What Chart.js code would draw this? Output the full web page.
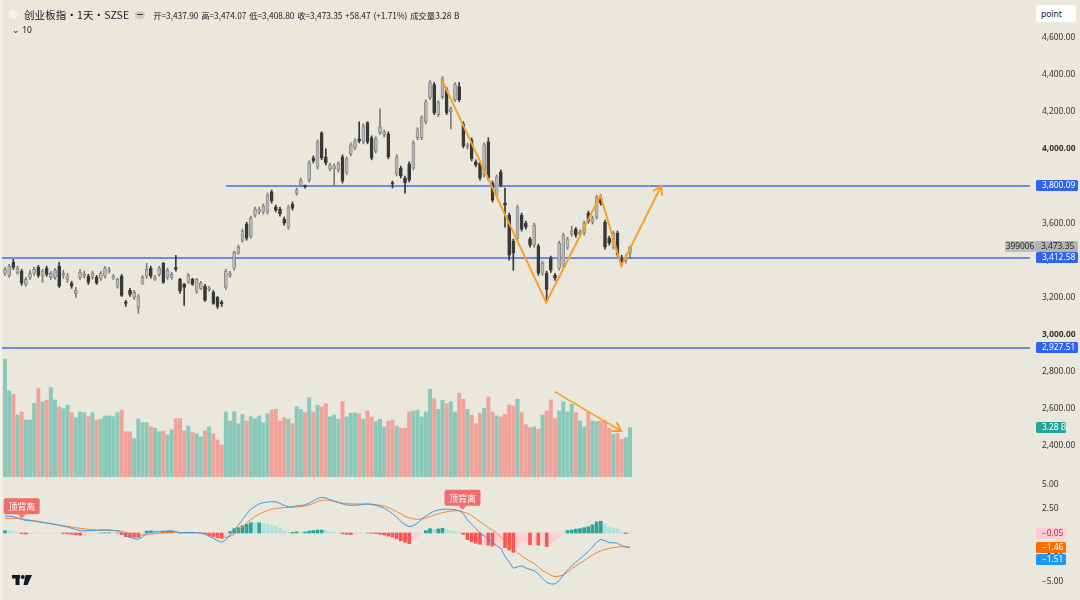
<!DOCTYPE html>
<html>
<head>
<meta charset="utf-8">
<title>创业板指 · 1天 · SZSE</title>
<script src="https://cdn.jsdelivr.net/npm/chart.js@4.4.1/dist/chart.umd.min.js"></script>
<style>
  html, body { margin: 0; padding: 0; background: #eae7dd; }
  body { width: 1080px; height: 600px; position: relative; overflow: hidden;
         font-family: "Noto Sans", "Noto Sans CJK SC", sans-serif; color: #131722; }
  canvas { position: absolute; left: 0; }
  #price { top: 0; }
  #macd { top: 478px; }
  .edge { position: absolute; left: 0; top: 0; width: 2px; height: 600px; background: #f2f0ea; }
  .title { position: absolute; left: 9px; top: 7px; white-space: nowrap; display: flex; align-items: center; }
  .dot { width: 9px; height: 9px; border-radius: 50%; background: #f3f1ec; margin-right: 6px; }
  .name { font-family: "Noto Sans CJK SC", sans-serif; font-size: 10.5px; letter-spacing: 0.1px; }
  .pill { display: inline-block; width: 10px; height: 8px; border-radius: 4px; background: #cfccc3;
          margin: 0 8px 0 6px; position: relative; }
  .pill::after { content: ""; position: absolute; left: 2px; top: 3.3px; width: 6px; height: 1.4px; background: #333; }
  .ohlc { font-family: "Noto Sans CJK SC", sans-serif; font-size: 8.3px; word-spacing: 1px; }
  .sub { position: absolute; left: 12px; top: 24px; font-size: 8.5px; }
  .unit { position: absolute; left: 1036px; top: 5px; width: 40px; height: 17px; background: #fff;
          border-radius: 3px; font-size: 8.5px; line-height: 17px; padding-left: 5px; box-sizing: border-box; }
</style>
</head>
<body>
<canvas id="price" width="1080" height="477"></canvas>
<canvas id="macd" width="1080" height="122"></canvas>
<div class="edge"></div>
<div class="title">
  <span class="dot"></span>
  <span class="name">创业板指·1天·SZSE</span>
  <span class="pill"></span>
  <span class="ohlc">开=3,437.90 高=3,474.07 低=3,408.80 收=3,473.35 +58.47 (+1.71%) 成交量3.28 B</span>
</div>
<div class="sub">&#8964; 10</div>
<div class="unit">point</div>

<script>
// ---- data (daily candles, oldest first) ----
var openArr = [
  3330, 3319, 3389, 3335, 3341, 3270, 3308, 3330, 3362, 3314,
  3357, 3308, 3308, 3368, 3319, 3297, 3276, 3222, 3308, 3314,
  3314, 3308, 3308, 3303, 3314, 3341, 3303, 3260, 3314, 3173,
  3238, 3200, 3146, 3276, 3314, 3357, 3297, 3324, 3384, 3308,
  3308, 3359, 3297, 3270, 3281, 3297, 3233, 3249, 3260, 3243,
  3227, 3200, 3170, 3254, 3319, 3357, 3438, 3508, 3595, 3530,
  3643, 3660, 3660, 3660, 3768, 3687, 3676, 3622, 3578, 3703,
  3762, 3805, 3800, 3832, 3951, 3903, 4087, 3957, 3892, 3892,
  3887, 3957, 3870, 3973, 4005, 4054, 4038, 4141, 4060, 3989,
  4087, 4076, 4081, 3816, 3865, 3897, 3843, 3919, 3897, 4060,
  4060, 4146, 4276, 4346, 4184, 4281, 4319, 4200, 4265, 4335,
  4135, 4011, 4049, 3930, 3924, 3860, 4038, 3816, 3751, 3876,
  3708, 3643, 3503, 3519, 3643, 3600, 3514, 3481, 3476, 3330,
  3330, 3411, 3319, 3357, 3373, 3470, 3541, 3568, 3541, 3546,
  3654, 3605, 3632, 3735, 3605, 3519, 3470, 3546, 3405, 3400,
  3437.90
];
var highArr = [
  3362, 3378, 3405, 3368, 3351, 3308, 3346, 3362, 3373, 3351,
  3368, 3341, 3357, 3389, 3346, 3330, 3287, 3254, 3351, 3341,
  3324, 3341, 3319, 3341, 3368, 3362, 3324, 3303, 3324, 3184,
  3249, 3238, 3216, 3319, 3384, 3368, 3319, 3368, 3389, 3357,
  3335, 3427, 3303, 3276, 3330, 3303, 3303, 3287, 3270, 3260,
  3238, 3205, 3184, 3351, 3341, 3449, 3481, 3568, 3605, 3638,
  3687, 3687, 3703, 3762, 3778, 3697, 3687, 3632, 3697, 3714,
  3789, 3843, 3805, 3935, 3962, 4049, 4092, 4000, 3924, 3919,
  3930, 3968, 3957, 4032, 4054, 4146, 4135, 4146, 4070, 4065,
  4216, 4103, 4092, 3827, 3968, 3908, 3854, 3930, 4043, 4114,
  4178, 4265, 4368, 4357, 4260, 4389, 4330, 4227, 4357, 4357,
  4146, 4032, 4060, 3941, 3935, 4032, 4060, 3827, 3860, 3887,
  3789, 3654, 3514, 3697, 3654, 3611, 3524, 3600, 3487, 3395,
  3341, 3422, 3330, 3503, 3546, 3524, 3584, 3578, 3562, 3611,
  3665, 3638, 3751, 3751, 3616, 3530, 3557, 3557, 3427, 3432,
  3474.07
];
var lowArr = [
  3319, 3308, 3351, 3324, 3265, 3260, 3297, 3319, 3308, 3281,
  3314, 3297, 3297, 3254, 3303, 3281, 3249, 3200, 3297, 3303,
  3270, 3297, 3270, 3292, 3303, 3330, 3297, 3249, 3205, 3151,
  3205, 3189, 3114, 3270, 3303, 3303, 3292, 3314, 3276, 3297,
  3297, 3341, 3222, 3157, 3276, 3265, 3222, 3243, 3178, 3233,
  3162, 3140, 3151, 3243, 3308, 3346, 3432, 3497, 3508, 3519,
  3632, 3649, 3649, 3649, 3708, 3660, 3638, 3589, 3568, 3670,
  3751, 3795, 3789, 3822, 3924, 3892, 3941, 3914, 3881, 3805,
  3876, 3816, 3860, 3962, 3995, 4032, 4027, 4027, 3941, 3978,
  4076, 4065, 3946, 3789, 3854, 3843, 3762, 3822, 3887, 4049,
  4049, 4135, 4265, 4184, 4173, 4270, 4184, 4108, 4254, 4254,
  4005, 4000, 3935, 3903, 3832, 3849, 3832, 3714, 3741, 3795,
  3578, 3400, 3346, 3508, 3557, 3568, 3470, 3470, 3319, 3319,
  3184, 3335, 3292, 3346, 3362, 3460, 3530, 3524, 3530, 3535,
  3600, 3595, 3622, 3697, 3460, 3481, 3460, 3422, 3373, 3384,
  3408.80
];
var closeArr = [
  3351, 3368, 3362, 3357, 3276, 3297, 3330, 3351, 3319, 3341,
  3324, 3330, 3346, 3260, 3330, 3314, 3260, 3238, 3335, 3324,
  3281, 3330, 3276, 3330, 3357, 3346, 3314, 3297, 3211, 3168,
  3216, 3227, 3205, 3308, 3351, 3314, 3308, 3357, 3281, 3346,
  3324, 3352, 3233, 3254, 3319, 3270, 3297, 3276, 3184, 3249,
  3168, 3151, 3166, 3341, 3330, 3443, 3470, 3557, 3519, 3627,
  3676, 3676, 3692, 3751, 3719, 3670, 3649, 3600, 3687, 3681,
  3778, 3832, 3795, 3924, 3935, 4038, 3951, 3924, 3914, 3908,
  3919, 3827, 3946, 4022, 4043, 4043, 4124, 4038, 3951, 4054,
  4119, 4092, 3957, 3811, 3957, 3854, 3816, 3832, 4032, 4103,
  4168, 4254, 4357, 4195, 4249, 4378, 4195, 4216, 4346, 4265,
  4016, 4022, 3946, 3914, 3843, 4022, 3843, 3724, 3849, 3805,
  3697, 3427, 3438, 3687, 3568, 3578, 3481, 3589, 3330, 3384,
  3243, 3346, 3303, 3492, 3535, 3514, 3557, 3535, 3552, 3600,
  3611, 3627, 3741, 3708, 3470, 3492, 3546, 3432, 3389, 3416,
  3473.35
];
// volume, billions
var volume = [
  7.83, 5.72, 5.50, 4.12, 4.32, 3.79, 3.79, 4.90, 5.90, 5.01,
  5.10, 5.94, 5.12, 4.66, 4.54, 4.77, 4.28, 3.94, 4.32, 4.28,
  4.01, 4.28, 3.77, 3.84, 4.06, 4.06, 4.01, 4.28, 4.44, 3.01,
  3.01, 2.57, 3.84, 3.61, 3.61, 3.33, 3.24, 3.01, 3.06, 2.79,
  3.13, 3.88, 3.88, 3.06, 3.39, 2.95, 2.88, 2.66, 3.06, 3.33,
  2.88, 2.46, 2.13, 4.32, 3.72, 4.34, 3.54, 4.17, 3.72, 4.01,
  3.88, 4.06, 3.61, 4.21, 4.46, 4.50, 3.72, 3.94, 3.84, 3.54,
  4.68, 4.50, 4.28, 5.27, 4.32, 4.77, 4.66, 4.88, 3.99, 4.12,
  3.84, 5.01, 3.99, 4.24, 4.26, 4.21, 3.84, 4.39, 3.99, 3.68,
  3.84, 3.33, 3.72, 3.79, 3.39, 3.24, 3.24, 4.34, 4.39, 4.44,
  3.99, 4.32, 5.83, 5.21, 4.50, 5.10, 4.88, 5.01, 4.32, 5.57,
  5.17, 4.50, 4.12, 3.54, 4.24, 4.57, 5.32, 4.32, 4.06, 3.99,
  4.17, 4.79, 4.72, 5.17, 4.28, 3.47, 3.28, 3.33, 3.17, 4.12,
  4.39, 5.12, 3.88, 4.39, 4.99, 4.32, 4.83, 4.28, 3.72, 3.33,
  4.32, 3.72, 3.68, 3.72, 3.72, 3.24, 2.84, 2.88, 2.51, 2.61,
  3.28
];
// MACD (12, 26, 9)
var dif = [
  1.75, 1.72, 1.68, 1.55, 1.40, 1.30, 1.26, 1.22, 1.15, 1.08,
  1.02, 0.95, 0.88, 0.80, 0.70, 0.60, 0.48, 0.35, 0.24, 0.22,
  0.24, 0.25, 0.27, 0.30, 0.31, 0.30, 0.27, 0.22, 0.02, -0.30,
  -0.45, -0.58, -0.65, -0.40, 0.00, 0.08, 0.12, 0.14, 0.18, 0.22,
  0.24, 0.15, 0.03, 0.05, 0.06, 0.07, 0.04, 0.00, -0.12, -0.35,
  -0.55, -0.80, -0.96, -0.70, -0.20, 0.30, 0.80, 1.40, 1.95, 2.45,
  2.75, 3.00, 3.13, 3.20, 3.23, 3.22, 3.05, 2.85, 2.71, 2.72,
  2.80, 2.82, 2.90, 3.10, 3.30, 3.55, 3.68, 3.62, 3.45, 3.30,
  3.15, 3.00, 2.89, 2.85, 2.87, 2.89, 2.95, 2.99, 2.95, 2.85,
  2.72, 2.55, 2.30, 2.00, 1.62, 1.20, 0.85, 0.65, 0.75, 1.00,
  1.40, 1.75, 2.03, 2.25, 2.38, 2.44, 2.46, 2.44, 2.40, 2.30,
  2.00, 1.34, 0.90, 0.45, 0.00, -0.30, -0.60, -0.95, -1.30, -1.60,
  -2.40, -3.00, -3.64, -3.50, -3.40, -3.60, -3.75, -3.90, -4.20, -4.67,
  -5.10, -5.26, -5.26, -4.90, -4.33, -3.80, -3.40, -3.00, -2.65, -2.30,
  -1.90, -1.45, -0.95, -0.65, -0.80, -1.00, -1.00, -1.05, -1.30, -1.45,
  -1.51
];
var dea = [
  1.51, 1.51, 1.51, 1.51, 1.48, 1.40, 1.32, 1.27, 1.20, 1.12,
  1.05, 0.98, 0.90, 0.82, 0.75, 0.68, 0.60, 0.54, 0.48, 0.43,
  0.38, 0.34, 0.31, 0.30, 0.29, 0.27, 0.25, 0.24, 0.18, 0.08,
  -0.05, -0.15, -0.20, -0.22, -0.20, -0.14, -0.08, -0.02, 0.02, 0.05,
  0.06, 0.06, 0.05, 0.04, 0.03, 0.03, 0.02, 0.00, -0.03, -0.08,
  -0.18, -0.30, -0.40, -0.45, -0.35, -0.15, 0.25, 0.65, 1.05, 1.38,
  1.70, 1.95, 2.15, 2.32, 2.45, 2.54, 2.58, 2.62, 2.64, 2.65,
  2.68, 2.72, 2.80, 2.90, 3.05, 3.25, 3.38, 3.40, 3.35, 3.25,
  3.15, 3.08, 3.03, 3.00, 2.99, 2.99, 2.99, 2.99, 2.98, 2.92,
  2.85, 2.76, 2.62, 2.42, 2.20, 1.98, 1.72, 1.55, 1.45, 1.41,
  1.45, 1.55, 1.68, 1.85, 1.98, 2.10, 2.18, 2.25, 2.30, 2.30,
  2.15, 2.03, 1.80, 1.50, 1.17, 0.85, 0.55, 0.30, 0.00, -0.40,
  -0.89, -1.25, -1.65, -2.03, -2.35, -2.65, -2.90, -3.15, -3.50, -3.88,
  -4.10, -4.35, -4.50, -4.45, -4.33, -4.05, -3.70, -3.40, -3.10, -2.85,
  -2.55, -2.25, -2.03, -1.85, -1.70, -1.58, -1.51, -1.45, -1.41, -1.42,
  -1.46
];
var hist = [
  0.24, 0.21, 0.17, 0.04, -0.08, -0.10, -0.06, -0.05, -0.05, -0.04,
  -0.03, -0.03, -0.02, -0.02, -0.05, -0.08, -0.12, -0.19, -0.24, -0.21,
  -0.14, -0.09, -0.04, 0.00, 0.02, 0.03, 0.02, -0.02, -0.16, -0.38,
  -0.40, -0.43, -0.45, -0.18, 0.20, 0.22, 0.20, 0.16, 0.16, 0.17,
  0.18, 0.09, -0.02, 0.01, 0.03, 0.04, 0.02, 0.00, -0.09, -0.27,
  -0.37, -0.50, -0.56, -0.25, 0.15, 0.45, 0.55, 0.75, 0.90, 1.07,
  1.05, 1.05, 0.98, 0.88, 0.78, 0.68, 0.47, 0.23, 0.07, 0.07,
  0.12, 0.10, 0.10, 0.20, 0.25, 0.30, 0.30, 0.22, 0.10, 0.05,
  0.00, -0.08, -0.14, -0.15, -0.12, -0.10, -0.04, 0.00, -0.03, -0.07,
  -0.13, -0.21, -0.32, -0.42, -0.60, -0.80, -0.95, -1.10, -0.75, -0.40,
  -0.10, 0.25, 0.45, 0.38, 0.42, 0.48, 0.35, 0.25, 0.15, 0.05,
  -0.15, -0.69, -0.90, -1.05, -1.17, -1.15, -1.25, -1.35, -1.30, -1.25,
  -1.51, -1.75, -1.99, -1.47, -1.05, -0.95, -1.20, -1.00, -1.25, -1.10,
  -1.40, -1.10, -0.80, -0.45, -0.05, 0.25, 0.30, 0.40, 0.45, 0.55,
  0.65, 0.85, 1.15, 1.20, 0.90, 0.58, 0.51, 0.40, 0.11, -0.06,
  -0.05
];

var priceTicks = [4600, 4400, 4200, 4000, 3800, 3600, 3400, 3200, 3000, 2800, 2600, 2400];
var macdTicks = [5, 2.5, 0, -2.5, -5];

// drawn levels and annotations (x = candle index)
var levels = [3800.09, 3412.58, 2927.51];
var levelFrom = [53, -1.2, -1.2];
var zigX = [104.7, 129.9, 142.9, 147.9, 157.5];
var zigY = [4378, 3173, 3749, 3370, 3800];
var volArrowX = [131.9, 147.9];
var volArrowY = [5.67, 3.06];
var divX = [4, 109.8];
var divY = [1.42, 2.30];
var symbolCode = '399006';

// ---- styling ----
var X_MIN = -1.2, X_MAX = 246;
var BLUE = '#2f63f0', LINE_BLUE = '#416ee0', ORANGE = '#f5a02a';
var UP_BODY = '#b6b6b6', UP_EDGE = '#7b7b7b', DN_BODY = '#383838';
var VOL_UP = '#8ac8ba', VOL_DN = '#efa39a';
var FONT = '"Noto Sans", sans-serif';
var FS = 8.4;

var isUp = closeArr.map(function(c, i) { return c >= openArr[i]; });

function fmt(v) {
  var s = Math.abs(v).toLocaleString('en-US', { minimumFractionDigits: 2, maximumFractionDigits: 2 });
  return (v < 0 ? '\u2212' : '') + s;
}

function tag(ctx, x, yc, w, text, bg, fg, center) {
  var h = 11;
  var top = Math.round(yc - h / 2);
  ctx.save();
  ctx.fillStyle = bg;
  ctx.beginPath();
  ctx.roundRect(x, top, w, h, 1.5);
  ctx.fill();
  ctx.fillStyle = fg;
  ctx.font = FS + 'px ' + FONT;
  ctx.textBaseline = 'middle';
  ctx.textAlign = center ? 'center' : 'left';
  ctx.fillText(text, center ? x + w / 2 : x + 6, top + h / 2 + 0.5);
  ctx.restore();
}

function arrowHead(ctx, p0, p1, len) {
  var a = Math.atan2(p1.y - p0.y, p1.x - p0.x), s = 0.55;
  ctx.beginPath();
  ctx.moveTo(p1.x - len * Math.cos(a - s), p1.y - len * Math.sin(a - s));
  ctx.lineTo(p1.x, p1.y);
  ctx.lineTo(p1.x - len * Math.cos(a + s), p1.y - len * Math.sin(a + s));
  ctx.stroke();
}

function lineSet(xs, ys, axis, color, width, key) {
  return {
    type: 'line', key: key, yAxisID: axis,
    data: xs.map(function(x, k) { return { x: x, y: ys[k] }; }),
    borderColor: color, borderWidth: width, pointRadius: 0, tension: 0, order: 0
  };
}

var pricePlugin = {
  id: 'priceDecor',
  afterDatasetsDraw: function(chart) {
    var ctx = chart.ctx;
    ['zig', 'volArrow'].forEach(function(key) {
      var idx = chart.data.datasets.findIndex(function(d) { return d.key === key; });
      var pts = chart.getDatasetMeta(idx).data;
      ctx.save();
      ctx.strokeStyle = ORANGE;
      ctx.lineWidth = 2;
      ctx.lineCap = 'round';
      arrowHead(ctx, pts[pts.length - 2], pts[pts.length - 1], 9);
      ctx.restore();
    });
  },
  afterDraw: function(chart) {
    var ctx = chart.ctx, y = chart.scales.y, vol = chart.scales.vol;
    var last = closeArr.length - 1;
    var ly = y.getPixelForValue(closeArr[last]);
    tag(ctx, 1005, ly, 30, symbolCode, '#bcbcbc', '#222', true);
    tag(ctx, 1035, ly, 43, fmt(closeArr[last]), '#b3b3b3', '#222');
    levels.forEach(function(v) { tag(ctx, 1036, y.getPixelForValue(v), 42, fmt(v), BLUE, '#fff'); });
    tag(ctx, 1036, vol.getPixelForValue(volume[last]), 30, volume[last].toFixed(2) + ' B', '#26a69a', '#fff');
  }
};

var datasets = [
  {
    type: 'bar', yAxisID: 'vol', order: 10, grouped: false, barThickness: 3.3,
    data: volume.map(function(v, i) { return { x: i, y: v }; }),
    backgroundColor: isUp.map(function(u) { return u ? VOL_UP : VOL_DN; })
  },
  {
    type: 'bar', yAxisID: 'y', order: 3, grouped: false, barThickness: 1,
    data: lowArr.map(function(l, i) { return { x: i, y: [l, highArr[i]] }; }),
    backgroundColor: isUp.map(function(u) { return u ? UP_EDGE : DN_BODY; })
  },
  {
    type: 'bar', yAxisID: 'y', order: 2, grouped: false, barThickness: 3, minBarLength: 1.5,
    data: openArr.map(function(o, i) { return { x: i, y: [o, closeArr[i]] }; }),
    backgroundColor: isUp.map(function(u) { return u ? UP_BODY : DN_BODY; }),
    borderColor: isUp.map(function(u) { return u ? UP_EDGE : DN_BODY; }),
    borderWidth: 0.7, borderSkipped: false
  }
];
levels.forEach(function(v, k) {
  var d = lineSet([levelFrom[k], X_MAX], [v, v], 'y', LINE_BLUE, 1.4, 'level' + k);
  d.order = 5;
  datasets.push(d);
});
datasets.push(lineSet(zigX, zigY, 'y', ORANGE, 2, 'zig'));
datasets.push(lineSet(volArrowX, volArrowY, 'vol', ORANGE, 1.6, 'volArrow'));

var xAxis = { type: 'linear', min: X_MIN, max: X_MAX, offset: false, display: false };

new Chart(document.getElementById('price'), {
  type: 'bar',
  data: { datasets: datasets },
  options: {
    responsive: false,
    animation: false,
    layout: { padding: 0 },
    plugins: { legend: { display: false }, tooltip: { enabled: false } },
    scales: {
      x: xAxis,
      y: {
        position: 'right', min: 2232.6, max: 4801.9,
        grid: { display: false, drawTicks: false }, border: { display: false },
        afterBuildTicks: function(s) { s.ticks = priceTicks.map(function(v) { return { value: v }; }); },
        afterFit: function(s) { s.width = 50; s.paddingTop = 0; s.paddingBottom = 0; },
        ticks: {
          padding: 12, autoSkip: false, color: '#333',
          font: function(c) {
            return { family: FONT, size: FS, weight: c.tick && c.tick.value % 1000 === 0 ? 'bold' : 'normal' };
          },
          callback: function(v) { return fmt(v); }
        }
      },
      vol: { display: false, min: 0, max: 31.7 }
    }
  },
  plugins: [pricePlugin]
});

// ---- MACD pane ----
var histColors = hist.map(function(h, i) {
  var p = i > 0 ? hist[i - 1] : h;
  if (h >= 0) return h >= p ? '#26a69a' : '#b2dfdb';
  return h < p ? '#ff5252' : '#ffcdd2';
});

var macdPlugin = {
  id: 'macdDecor',
  afterDraw: function(chart) {
    var ctx = chart.ctx, xs = chart.scales.x, ys = chart.scales.y;
    // divergence labels
    divX.forEach(function(dx, k) {
      var ax = xs.getPixelForValue(dx), ay = ys.getPixelForValue(divY[k]);
      var w = 36, h = 16, bottom = ay - 5;
      ctx.save();
      ctx.fillStyle = '#f26d6d';
      ctx.beginPath();
      ctx.roundRect(ax - w / 2, bottom - h, w, h, 2);
      ctx.fill();
      ctx.beginPath();
      ctx.moveTo(ax - 4, bottom);
      ctx.lineTo(ax + 4, bottom);
      ctx.lineTo(ax, bottom + 4);
      ctx.closePath();
      ctx.fill();
      ctx.fillStyle = '#fff';
      ctx.font = '9px "Noto Sans CJK SC", sans-serif';
      ctx.textAlign = 'center';
      ctx.textBaseline = 'middle';
      ctx.fillText('顶背离', ax, bottom - h / 2 + 0.5);
      ctx.restore();
    });
    // last value tags, pushed apart when they overlap
    var n = hist.length - 1;
    var items = [
      { v: hist[n], bg: '#ffcdd2', fg: '#c62828' },
      { v: dea[n], bg: '#ff6d00', fg: '#fff' },
      { v: dif[n], bg: '#2196f3', fg: '#fff' }
    ].map(function(t) { t.y = ys.getPixelForValue(t.v); return t; })
     .sort(function(a, b) { return a.y - b.y; });
    var prev = -1e9;
    items.forEach(function(t) {
      t.y = Math.max(t.y, prev + 12);
      prev = t.y;
      tag(ctx, 1036, t.y, 30, fmt(t.v), t.bg, t.fg);
    });
    // logo
    ctx.save();
    ctx.fillStyle = '#131722';
    ctx.fillRect(12, 97, 8, 3.5);
    ctx.fillRect(15.5, 97, 4, 10);
    ctx.beginPath();
    ctx.arc(22.7, 99, 1.9, 0, Math.PI * 2);
    ctx.fill();
    ctx.beginPath();
    ctx.moveTo(25.5, 97);
    ctx.lineTo(32, 97);
    ctx.lineTo(27.5, 107);
    ctx.lineTo(23.5, 107);
    ctx.closePath();
    ctx.fill();
    ctx.restore();
  }
};

new Chart(document.getElementById('macd'), {
  type: 'bar',
  data: {
    datasets: [
      {
        type: 'line', order: 1,
        data: dif.map(function(v, i) { return { x: i, y: v }; }),
        borderColor: '#3d97e6', borderWidth: 1, pointRadius: 0, tension: 0
      },
      {
        type: 'line', order: 2,
        data: dea.map(function(v, i) { return { x: i, y: v }; }),
        borderColor: '#f2813a', borderWidth: 1, pointRadius: 0, tension: 0
      },
      {
        type: 'bar', order: 3, grouped: false, barThickness: 3,
        data: hist.map(function(v, i) { return { x: i, y: v }; }),
        backgroundColor: histColors
      }
    ]
  },
  options: {
    responsive: false,
    animation: false,
    layout: { padding: 0 },
    plugins: { legend: { display: false }, tooltip: { enabled: false } },
    scales: {
      x: xAxis,
      y: {
        position: 'right', min: -6.91, max: 5.67,
        grid: { display: false, drawTicks: false }, border: { display: false },
        afterBuildTicks: function(s) { s.ticks = macdTicks.map(function(v) { return { value: v }; }); },
        afterFit: function(s) { s.width = 50; s.paddingTop = 0; s.paddingBottom = 0; },
        ticks: {
          padding: 12, autoSkip: false, color: '#333',
          font: { family: FONT, size: FS },
          callback: function(v) { return fmt(v); }
        }
      }
    }
  },
  plugins: [macdPlugin]
});
</script>
</body>
</html>
